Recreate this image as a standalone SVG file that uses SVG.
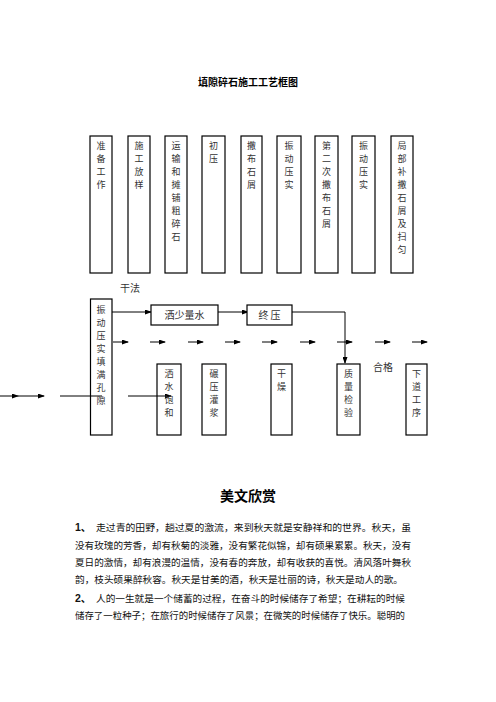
<svg xmlns="http://www.w3.org/2000/svg" width="496" height="702" viewBox="0 0 496 702">
<defs>
<marker id="ah" markerWidth="7" markerHeight="5" refX="6" refY="2.5" orient="auto" markerUnits="userSpaceOnUse">
<path d="M0,0 L7,2.5 L0,5 Z" fill="#000"/>
</marker>
<style>
.box{fill:#fff;stroke:#000;stroke-width:1.2}
.vt{font-family:"Noto Sans CJK SC","Liberation Serif",serif;font-size:9px;fill:#333;text-anchor:middle}
.lb{font-family:"Noto Sans CJK SC","Liberation Serif",serif;font-size:10px;fill:#333}
.ln{stroke:#000;stroke-width:1;fill:none}
.p{font-family:"Noto Sans CJK SC","Liberation Sans",sans-serif;font-size:9.6px;fill:#111}
</style>
</defs>
<rect width="496" height="702" fill="#fff"/>
<text x="248" y="86" text-anchor="middle" font-family="'Noto Sans CJK SC',serif" font-size="10px" font-weight="bold" fill="#000">填隙碎石施工工艺框图</text>

<g id="n1"><rect class="box" x="90" y="136" width="22" height="137"/><text class="vt"><tspan x="101" y="149">准</tspan><tspan x="101" y="162">备</tspan><tspan x="101" y="175">工</tspan><tspan x="101" y="188">作</tspan></text></g>
<g id="n2"><rect class="box" x="128" y="136" width="22" height="137"/><text class="vt"><tspan x="139" y="149">施</tspan><tspan x="139" y="162">工</tspan><tspan x="139" y="175">放</tspan><tspan x="139" y="188">样</tspan></text></g>
<g id="n3"><rect class="box" x="165" y="136" width="22" height="137"/><text class="vt"><tspan x="176" y="149">运</tspan><tspan x="176" y="162">输</tspan><tspan x="176" y="175">和</tspan><tspan x="176" y="188">摊</tspan><tspan x="176" y="201">铺</tspan><tspan x="176" y="214">粗</tspan><tspan x="176" y="227">碎</tspan><tspan x="176" y="240">石</tspan></text></g>
<g id="n4"><rect class="box" x="202" y="136" width="23" height="137"/><text class="vt"><tspan x="213.5" y="149">初</tspan><tspan x="213.5" y="162">压</tspan></text></g>
<g id="n5"><rect class="box" x="241" y="136" width="21" height="137"/><text class="vt"><tspan x="251.5" y="149">撒</tspan><tspan x="251.5" y="162">布</tspan><tspan x="251.5" y="175">石</tspan><tspan x="251.5" y="188">屑</tspan></text></g>
<g id="n6"><rect class="box" x="277" y="136" width="24" height="137"/><text class="vt"><tspan x="289" y="149">振</tspan><tspan x="289" y="162">动</tspan><tspan x="289" y="175">压</tspan><tspan x="289" y="188">实</tspan></text></g>
<g id="n7"><rect class="box" x="315" y="136" width="23" height="137"/><text class="vt"><tspan x="326.5" y="149">第</tspan><tspan x="326.5" y="162">二</tspan><tspan x="326.5" y="175">次</tspan><tspan x="326.5" y="188">撒</tspan><tspan x="326.5" y="201">布</tspan><tspan x="326.5" y="214">石</tspan><tspan x="326.5" y="227">屑</tspan></text></g>
<g id="n8"><rect class="box" x="352" y="136" width="23" height="137"/><text class="vt"><tspan x="363.5" y="149">振</tspan><tspan x="363.5" y="162">动</tspan><tspan x="363.5" y="175">压</tspan><tspan x="363.5" y="188">实</tspan></text></g>
<g id="n9"><rect class="box" x="391" y="136" width="22" height="137"/><text class="vt"><tspan x="402" y="149">局</tspan><tspan x="402" y="162">部</tspan><tspan x="402" y="175">补</tspan><tspan x="402" y="188">撒</tspan><tspan x="402" y="201">石</tspan><tspan x="402" y="214">屑</tspan><tspan x="402" y="227">及</tspan><tspan x="402" y="240">扫</tspan><tspan x="402" y="253">匀</tspan></text></g>

<text class="lb" x="120" y="292">干法</text>
<text class="lb" x="373" y="371">合格</text>

<g id="connectors">
<line class="ln" x1="0" y1="396" x2="18" y2="396" marker-end="url(#ah)"/>
<line class="ln" x1="18" y1="396" x2="44" y2="396" marker-end="url(#ah)"/>
<line class="ln" x1="60" y1="396" x2="102" y2="396"/>
<line class="ln" x1="128" y1="396" x2="171" y2="396" marker-end="url(#ah)"/>
<line class="ln" x1="112" y1="312" x2="151" y2="312" marker-end="url(#ah)"/>
<line class="ln" x1="218" y1="312" x2="248" y2="312" marker-end="url(#ah)"/>
<polyline class="ln" points="292,312 345,312 345,363" stroke="#444" stroke-width="1.4" marker-end="url(#ah)"/>
<line class="ln" x1="113" y1="342" x2="128" y2="342" marker-end="url(#ah)"/>
<line class="ln" x1="150" y1="342" x2="165" y2="342" marker-end="url(#ah)"/>
<line class="ln" x1="188" y1="342" x2="203" y2="342" marker-end="url(#ah)"/>
<line class="ln" x1="225" y1="342" x2="240" y2="342" marker-end="url(#ah)"/>
<line class="ln" x1="262" y1="342" x2="277" y2="342" marker-end="url(#ah)"/>
<line class="ln" x1="300" y1="342" x2="315" y2="342" marker-end="url(#ah)"/>
<line class="ln" x1="337" y1="342" x2="352" y2="342" marker-end="url(#ah)"/>
<line class="ln" x1="375" y1="342" x2="390" y2="342" marker-end="url(#ah)"/>
<line class="ln" x1="412" y1="342" x2="427" y2="342" marker-end="url(#ah)"/>
</g>

<g id="n10"><rect class="box" x="90.5" y="299" width="21.5" height="136" style="fill:none"/><text class="vt"><tspan x="101" y="313">振</tspan><tspan x="101" y="326">动</tspan><tspan x="101" y="339">压</tspan><tspan x="101" y="352">实</tspan><tspan x="101" y="365">填</tspan><tspan x="101" y="378">满</tspan><tspan x="101" y="391">孔</tspan><tspan x="101" y="404">隙</tspan></text></g>
<g id="n11"><rect class="box" x="151" y="305" width="67" height="20"/><text class="lb" x="184.5" y="319" text-anchor="middle">洒少量水</text></g>
<g id="n12"><rect class="box" x="247" y="305" width="45" height="20"/><text class="lb" x="269.5" y="319" text-anchor="middle">终 压</text></g>
<g id="n13"><rect class="box" x="157" y="364" width="24" height="71" style="fill:none"/><text class="vt"><tspan x="169" y="377">洒</tspan><tspan x="169" y="390">水</tspan><tspan x="169" y="403">饱</tspan><tspan x="169" y="416">和</tspan></text></g>
<g id="n14"><rect class="box" x="202" y="364" width="24" height="71"/><text class="vt"><tspan x="214" y="377">碾</tspan><tspan x="214" y="390">压</tspan><tspan x="214" y="403">灌</tspan><tspan x="214" y="416">浆</tspan></text></g>
<g id="n15"><rect class="box" x="271" y="364" width="21" height="71"/><text class="vt"><tspan x="281.5" y="377">干</tspan><tspan x="281.5" y="390">燥</tspan></text></g>
<g id="n16"><rect class="box" x="337" y="364" width="23" height="71"/><text class="vt"><tspan x="348.5" y="377">质</tspan><tspan x="348.5" y="390">量</tspan><tspan x="348.5" y="403">检</tspan><tspan x="348.5" y="416">验</tspan></text></g>
<g id="n17"><rect class="box" x="406" y="364" width="21" height="71"/><text class="vt"><tspan x="416.5" y="377">下</tspan><tspan x="416.5" y="390">道</tspan><tspan x="416.5" y="403">工</tspan><tspan x="416.5" y="416">序</tspan></text></g>

<text x="248" y="501" text-anchor="middle" font-family="'Noto Sans CJK SC',sans-serif" font-size="14px" font-weight="bold" fill="#000">美文欣赏</text>
<text class="p" x="75" y="531"><tspan font-weight="bold" font-family="'Liberation Sans','Noto Sans CJK SC',sans-serif" font-size="10.5px">1、</tspan></text>
<text class="p" x="96" y="531" textLength="315" lengthAdjust="spacingAndGlyphs">走过青的田野，趟过夏的激流，来到秋天就是安静祥和的世界。秋天，虽</text>
<text class="p" x="75" y="549" textLength="336" lengthAdjust="spacingAndGlyphs">没有玫瑰的芳香，却有秋菊的淡雅，没有繁花似锦，却有硕果累累。秋天，没有</text>
<text class="p" x="75" y="566" textLength="336" lengthAdjust="spacingAndGlyphs">夏日的激情，却有浪漫的温情，没有春的奔放，却有收获的喜悦。清风落叶舞秋</text>
<text class="p" x="75" y="583" textLength="328" lengthAdjust="spacingAndGlyphs">韵，枝头硕果醉秋容。秋天是甘美的酒，秋天是壮丽的诗，秋天是动人的歌。</text>
<text class="p" x="75" y="602"><tspan font-weight="bold" font-family="'Liberation Sans','Noto Sans CJK SC',sans-serif" font-size="10.5px">2、</tspan></text>
<text class="p" x="96" y="602" textLength="309" lengthAdjust="spacingAndGlyphs">人的一生就是一个储蓄的过程，在奋斗的时候储存了希望；在耕耘的时候</text>
<text class="p" x="75" y="619" textLength="330" lengthAdjust="spacingAndGlyphs">储存了一粒种子；在旅行的时候储存了风景；在微笑的时候储存了快乐。聪明的</text>
</svg>
